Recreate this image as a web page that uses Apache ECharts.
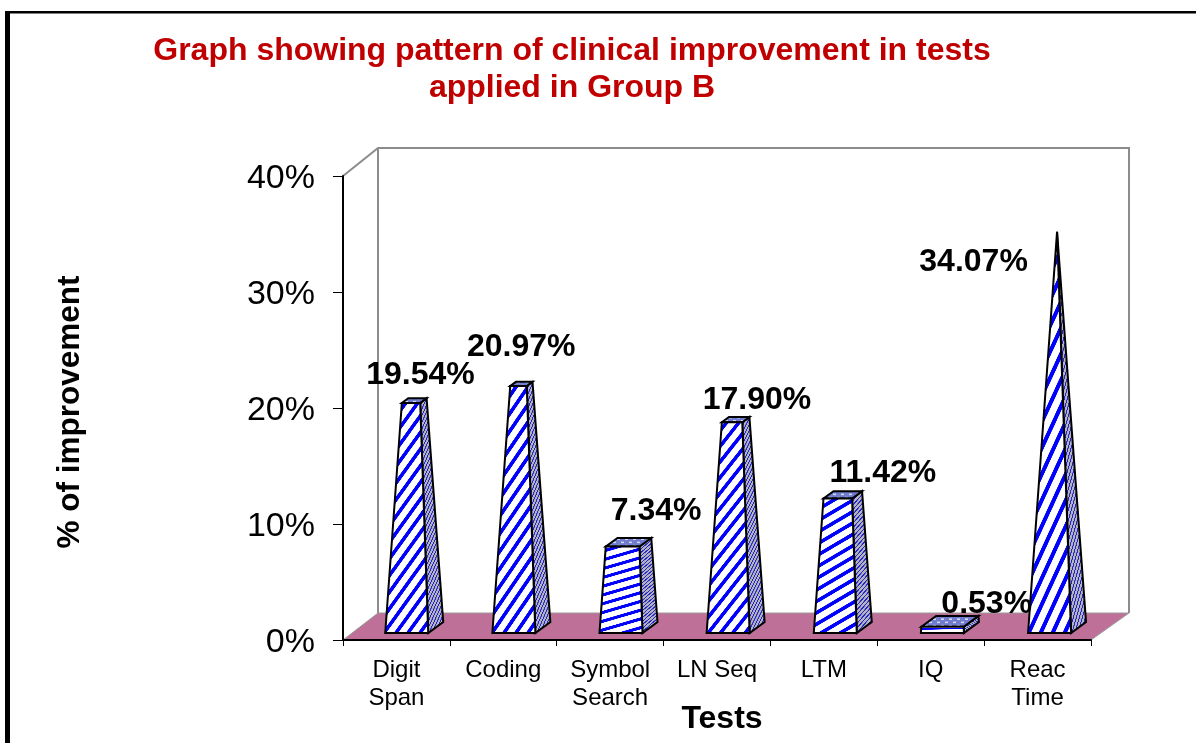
<!DOCTYPE html>
<html>
<head>
<meta charset="utf-8">
<title>Group B improvement</title>
<script src="https://cdn.jsdelivr.net/npm/echarts@6/dist/echarts.min.js"></script>
<style>
  html, body { margin: 0; padding: 0; background: #fff; }
  #chart { width: 1196px; height: 743px; }
</style>
</head>
<body>
<div id="chart"></div>
<script>
const categories = ['Digit\nSpan', 'Coding', 'Symbol\nSearch', 'LN Seq', 'LTM', 'IQ', 'Reac\nTime'];
const improvement = [19.54, 20.97, 7.34, 17.90, 11.42, 0.53, 34.07];
const yTicks = [0, 10, 20, 30, 40];

// hand placed data labels, offset from each bar's value point
const labelOffsets = [[24, -38], [18, -50], [46, -44], [40, -32], [59, -34], [56, -30], [-64, 17]];

const FONT = '"Liberation Sans", Arial, sans-serif';
const apexValue = Math.max(...improvement);

// small repeating tiles for the bar hatching
function stripeTile(bg, fg, lw) {
    const c = document.createElement('canvas');
    c.width = c.height = 40;
    const g = c.getContext('2d');
    g.fillStyle = bg;
    g.fillRect(0, 0, 40, 40);
    g.strokeStyle = fg;
    g.lineWidth = lw;
    [-40, 0, 40].forEach(o => {
        g.beginPath();
        g.moveTo(o - 5, 45);
        g.lineTo(o + 45, -5);
        g.stroke();
    });
    return c;
}
function checkTile() {
    const c = document.createElement('canvas');
    c.width = c.height = 8;
    const g = c.getContext('2d');
    g.fillStyle = '#6f7cd0';
    g.fillRect(0, 0, 8, 8);
    g.fillStyle = '#d8daea';
    g.fillRect(1, 1, 3, 2);
    g.fillRect(5, 5, 3, 2);
    return c;
}
const frontTile = stripeTile('#ffffff', '#0000ff', 10.5);
const sideTile = stripeTile('#b4b4be', '#2424c8', 10);
const topTile = checkTile();

function lerp(p, q, t) {
    return [p[0] + (q[0] - p[0]) * t, p[1] + (q[1] - p[1]) * t];
}

function renderWalls(params, api) {
    const left = params.coordSys.x;
    const right = left + params.coordSys.width;
    const y0 = api.coord([0, 0])[1];
    const top = api.coord([0, 40])[1];
    const backL = left + 35, backR = right + 38;
    const floorY = y0 - 27, wallY = top - 28;
    const wall = { stroke: '#8c8c8c', lineWidth: 2, fill: 'none' };
    return {
        type: 'group',
        children: [
            { type: 'polygon', shape: { points: [[left, y0], [backL, floorY], [backR, floorY], [right, y0]] },
              style: { fill: '#bf7099', stroke: '#9a9a9a', lineWidth: 1 } },
            { type: 'polyline', shape: { points: [[left, top], [backL, wallY], [backR, wallY], [backR, floorY]] }, style: wall },
            { type: 'line', shape: { x1: backL, y1: wallY, x2: backL, y2: floorY }, style: wall }
        ]
    };
}

function renderPyramid(params, api) {
    const i = api.value(0);
    const v = api.value(1);
    const cx = api.coord([i, 0])[0] + 10.3 + i * 0.28;
    const y0 = api.coord([i, 0])[1] - 7;
    const half = 21.5, sideX = 15, sideY = -11;
    const fl = [cx - half, y0], fr = [cx + half, y0];
    const br = [cx + half + sideX, y0 + sideY], bl = [cx - half + sideX, y0 + sideY];
    const apex = [cx + sideX / 2, api.coord([i, apexValue])[1] - 13];
    const t = v / apexValue;
    const tfl = lerp(fl, apex, t), tfr = lerp(fr, apex, t), tbr = lerp(br, apex, t), tbl = lerp(bl, apex, t);

    // the stripes stretch with the bar, short bars get flat dense lines
    const h = y0 - tfl[1];
    const px = Math.max(12, 2600 / h);
    const py = 4 + h * 0.055;
    const line = { stroke: '#000', lineWidth: 2, lineJoin: 'miter' };
    const face = (points, image, sx, sy) => ({
        type: 'polygon',
        shape: { points: points },
        style: Object.assign({ fill: { image: image, repeat: 'repeat', scaleX: sx, scaleY: sy } }, line)
    });
    return {
        type: 'group',
        children: [
            face([br, tbr, tfr, fr], sideTile, Math.min(px, 16) / 160, py / 100),
            face([tfl, tfr, tbr, tbl], topTile, 1, 0.8),
            face([fl, fr, tfr, tfl], frontTile, px / 40, py / 40)
        ]
    };
}

function renderLabel(params, api) {
    const i = api.value(0);
    const p = api.coord([i, api.value(1)]);
    return {
        type: 'text',
        x: p[0] + labelOffsets[i][0],
        y: p[1] + labelOffsets[i][1],
        style: {
            text: api.value(1).toFixed(2) + '%',
            font: 'bold 32px ' + FONT,
            fill: '#000',
            align: 'center',
            verticalAlign: 'middle'
        }
    };
}

const chart = echarts.init(document.getElementById('chart'), null, { renderer: 'canvas' });
const points = improvement.map((v, i) => [i, v]);

chart.setOption({
    animation: false,
    backgroundColor: '#fff',
    title: {
        text: 'Graph showing pattern of clinical improvement in tests\napplied in Group B',
        left: 567,
        top: 28,
        textAlign: 'center',
        textStyle: { fontFamily: FONT, fontSize: 32, fontWeight: 'bold', color: '#c00000', lineHeight: 37 }
    },
    grid: { left: 343, top: 176, width: 748, height: 464, outerBoundsMode: 'none' },
    xAxis: {
        type: 'category',
        data: categories,
        z: 5,
        name: 'Tests',
        nameLocation: 'middle',
        nameGap: 63,
        nameMoveOverlap: false,
        nameTextStyle: { fontFamily: FONT, fontSize: 32, fontWeight: 'bold', color: '#000', padding: [0, 0, 0, 10] },
        axisLine: { lineStyle: { color: '#000', width: 2 } },
        axisTick: { show: true, length: 6, lineStyle: { color: '#000', width: 1 }, alignWithLabel: false },
        axisLabel: { interval: 0, margin: 16, fontFamily: FONT, fontSize: 24, lineHeight: 28, color: '#000' }
    },
    yAxis: {
        type: 'value',
        min: yTicks[0],
        max: yTicks[yTicks.length - 1],
        interval: 10,
        z: 5,
        name: '% of improvement',
        nameLocation: 'middle',
        nameRotate: 90,
        nameGap: 257,
        nameMoveOverlap: false,
        nameTextStyle: { fontFamily: FONT, fontSize: 31.5, fontWeight: 'bold', color: '#000', padding: [0, 8, 0, 0] },
        splitLine: { show: false },
        axisLine: { show: true, lineStyle: { color: '#000', width: 2 } },
        axisTick: { show: true, length: 10, lineStyle: { color: '#000', width: 1 } },
        axisLabel: {
            margin: 28,
            formatter: '{t|{value}%}',
            rich: { t: { padding: [6, 0, 0, 0], fontFamily: FONT, fontSize: 34, color: '#000' } }
        }
    },
    graphic: [
        { type: 'rect', shape: { x: 5, y: 11, width: 1191, height: 2.5 }, style: { fill: '#000' } },
        { type: 'rect', shape: { x: 5, y: 11, width: 5, height: 732 }, style: { fill: '#000' } }
    ],
    series: [
        { type: 'custom', name: 'walls', coordinateSystem: 'cartesian2d', data: [[0, 0]], renderItem: renderWalls, z: 1, silent: true },
        { type: 'custom', name: 'improvement', coordinateSystem: 'cartesian2d', data: points, renderItem: renderPyramid, z: 2, clip: false },
        { type: 'custom', name: 'labels', coordinateSystem: 'cartesian2d', data: points, renderItem: renderLabel, z: 3, clip: false }
    ]
});
</script>
</body>
</html>
